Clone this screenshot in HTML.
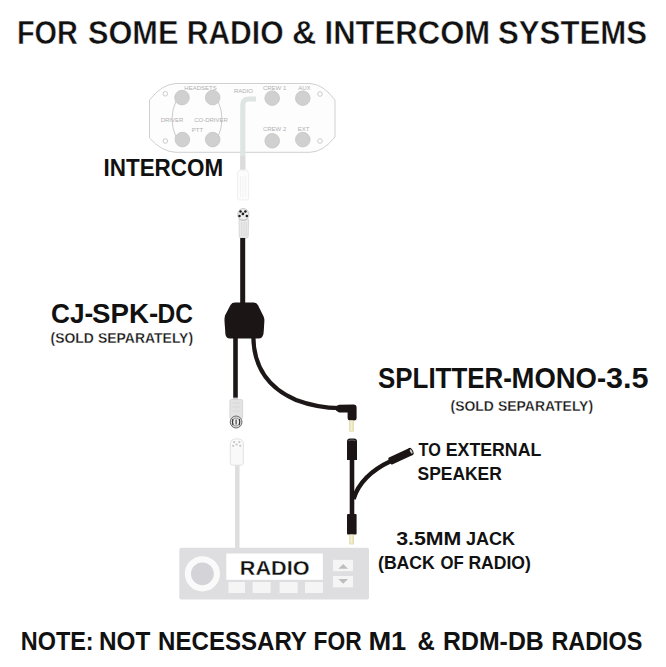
<!DOCTYPE html>
<html><head><meta charset="utf-8">
<style>
html,body{margin:0;padding:0;background:#fff;width:666px;height:667px;overflow:hidden}
svg{display:block}
text{font-family:"Liberation Sans",sans-serif;fill:#111}
.b{font-weight:bold}
.bt{font-weight:bold;stroke:#fff;stroke-width:0.45px}
.bs{font-weight:bold;stroke:#fff;stroke-width:0.3px}
.m{font-weight:normal;stroke:#111;stroke-width:0.45px}
.lbl{font-weight:normal;fill:#b0b0b0;font-size:6px;stroke:none}
</style></head><body>
<svg width="666" height="667" viewBox="0 0 666 667">
<rect width="666" height="667" fill="#fff"/>

<!-- ===== INTERCOM PANEL ===== -->
<path d="M176,83.5 L310,83.5 Q323,84 335,100 L335,137 Q323,152 310,152.3 L176,152.3 Q162,152 149.5,138 L149.5,100 Q162,84 176,83.5 Z" fill="#fdfdfd" stroke="#d0d0d0" stroke-width="1"/>
<g fill="#d0d0d0" stroke="#c4c4c4" stroke-width="0.8">
<circle cx="182" cy="97.6" r="7.3"/><circle cx="212.7" cy="97.6" r="7.3"/>
<circle cx="182.4" cy="139.6" r="7.3"/><circle cx="212.7" cy="139.6" r="7.3"/>
<circle cx="272.2" cy="98.2" r="7.3"/><circle cx="302.8" cy="98.2" r="7.3"/>
<circle cx="272.2" cy="140.8" r="7.3"/><circle cx="302.8" cy="139.6" r="7.3"/>
</g>
<g fill="none" stroke="#c6c6c6" stroke-width="0.9">
<circle cx="165.3" cy="93.8" r="2.3"/><circle cx="165.3" cy="141" r="2.3"/>
<circle cx="320" cy="94" r="2.3"/><circle cx="320" cy="141" r="2.3"/>
<path d="M176,101 Q168,119 176,137"/>
<path d="M218,101 Q226,119 218,137"/>
</g>
<g class="lbl">
<text class="lbl" x="200.5" y="89.5" text-anchor="middle">HEADSETS</text>
<text class="lbl" x="172" y="121.5" text-anchor="middle">DRIVER</text>
<text class="lbl" x="211" y="121.5" text-anchor="middle">CO-DRIVER</text>
<text class="lbl" x="197.5" y="132" text-anchor="middle">PTT</text>
<text class="lbl" x="243.5" y="92.5" text-anchor="middle">RADIO</text>
<text class="lbl" x="274.6" y="90" text-anchor="middle">CREW 1</text>
<text class="lbl" x="304.3" y="90" text-anchor="middle">AUX</text>
<text class="lbl" x="274.6" y="131" text-anchor="middle">CREW 2</text>
<text class="lbl" x="303.5" y="131" text-anchor="middle">EXT</text>
</g>
<!-- radio hook cable (light) -->
<path d="M242.8,171 L242.8,105 Q242.8,99 248.8,99 L256,99" fill="none" stroke="#dfe5e2" stroke-width="5.2"/>
<path d="M242.8,171 L242.8,156" fill="none" stroke="#dcdcdc" stroke-width="5"/>
<!-- faint female connector -->
<path d="M237.5,174 Q237.5,170 240.5,170 L245.5,170 Q248.6,170 248.6,174 L248.6,198 Q248.6,200 246.5,200 L239.5,200 Q237.5,200 237.5,198 Z" fill="#fcfcfc" stroke="#ededed" stroke-width="0.9"/>
<g stroke="#efefef" stroke-width="0.7"><path d="M240.5,176 L240.5,197"/><path d="M243,176 L243,197"/><path d="M245.5,176 L245.5,197"/></g>

<!-- male connector on CJ-SPK-DC -->
<path d="M239,219 L248.6,219 L248.2,236.5 Q248,238 246.5,238 L240.8,238 Q239.4,238 239.3,236.5 Z" fill="#e9e9ea" stroke="#d2d2d2" stroke-width="0.8"/>
<g stroke="#d6d6d6" stroke-width="0.7"><path d="M241.6,222 L241.6,236"/><path d="M244,222 L244,236"/><path d="M246.2,222 L246.2,236"/></g>
<ellipse cx="243.3" cy="214.5" rx="5.6" ry="6" fill="#ededed" stroke="#bdbdbd" stroke-width="0.8"/>
<g fill="#1c1c1c">
<circle cx="240.5" cy="211.6" r="1.25"/><circle cx="245.4" cy="211.6" r="1.25"/>
<circle cx="239.5" cy="216" r="1.25"/><circle cx="246.8" cy="216" r="1.25"/><circle cx="242.9" cy="213.9" r="1.35"/>
</g>
<path d="M239.5,219 Q243.3,221.5 247.2,219" fill="none" stroke="#bbb" stroke-width="0.7"/>

<!-- black cables -->
<g fill="none" stroke="#1d1717" stroke-linecap="butt">
<path d="M242.7,238 L242.7,305" stroke-width="5"/>
<path d="M235.5,336 L235.5,399" stroke-width="4.6"/>
<path d="M253.3,336 C253.5,366 268,388 296,400 C312,406 326,408 340,408.2" stroke-width="4.2"/>
</g>
<!-- splitter body -->
<path d="M235,302.6 L253.5,302.6 Q256.6,302.6 258,305.2 L263.6,316.5 Q264.4,318.5 264.4,321 L263.6,333 Q263,338.6 258.5,338.6 L230,338.6 Q226,338.6 225.4,334 L224.5,321 Q224.4,318 225,315.5 L230.5,305 Q232,302.6 235,302.6 Z" fill="#1b1515"/>

<!-- female connector lower-left -->
<rect x="232.8" y="397.6" width="5.2" height="2.6" fill="#cfcfcf"/>
<rect x="229.9" y="399.6" width="12.7" height="19" rx="1.2" fill="#e3e3e3" stroke="#d0d0d0" stroke-width="0.8"/>
<g stroke="#d2d2d2" stroke-width="0.6"><path d="M232.5,403 L240,403"/><path d="M232.5,407 L240,407"/><path d="M232.5,411 L240,411"/></g>
<ellipse cx="236.1" cy="422" rx="5.9" ry="6" fill="#d6d6d6" stroke="#6c6c6c" stroke-width="1"/>
<ellipse cx="236.1" cy="422" rx="3.6" ry="4" fill="#eeeeee" stroke="#8a8a8a" stroke-width="0.8"/>
<g fill="none" stroke="#333" stroke-width="1.1">
<path d="M232.8,419 Q232.2,422 232.9,425.2"/>
<path d="M239.4,419 Q240,422 239.3,425.2"/>
<path d="M236.1,419.5 L236.1,424.5"/>
</g>

<!-- faint radio cable + connector -->
<path d="M237.3,464 L237.3,549" stroke="#dedede" stroke-width="4.5" fill="none"/>
<path d="M230.3,444 Q230.3,438.8 236.8,438.8 Q243.4,438.8 243.4,444 L243.4,463 Q243.4,465.2 241,465.2 L232.7,465.2 Q230.3,465.2 230.3,463 Z" fill="#f9f9f9" stroke="#e0e0e0" stroke-width="0.9"/>
<g fill="#c6c6c6">
<circle cx="234.1" cy="442.1" r="1.1"/><circle cx="239.3" cy="442.1" r="1.1"/><circle cx="236.6" cy="444.5" r="1.1"/>
<circle cx="233.2" cy="445.8" r="1.1"/><circle cx="240.2" cy="445.8" r="1.1"/>
</g>

<!-- right angle 3.5 plug -->
<path d="M336,406.2 L339,404.8 L353.5,404.6 Q356.6,404.6 356.6,407.6 L356.6,418 Q356.6,420.5 354,420.5 L350,420.5 Q347.6,420.5 347.6,418 L347.6,412.6 L339,412.4 L336,410.4 Z" fill="#1b1515"/>
<rect x="349.1" y="420.3" width="4.8" height="11.5" rx="1" fill="#e4dcae"/>
<rect x="350.5" y="421" width="2" height="10" fill="#f3efd8"/>

<!-- splitter mono -->
<path d="M347,460 L347,441.5 Q347,438.4 350,438.4 L354,438.4 Q357,438.4 357,441.5 L357,460 Z" fill="#1b1515"/>
<path d="M348.6,440.6 Q352,439.2 355.4,440.6" fill="none" stroke="#777" stroke-width="0.8"/>
<path d="M352,459 L352,516" stroke="#1b1515" stroke-width="4.6" fill="none"/>
<path d="M353.5,499 Q361,475 391,461" stroke="#1b1515" stroke-width="4.5" fill="none"/>
<g transform="translate(389.5,461.5) rotate(-25)">
<rect x="0" y="-3.8" width="25" height="7.6" rx="1.2" fill="#1b1515"/>
<ellipse cx="23.6" cy="0" rx="2.2" ry="3.8" fill="#1b1515"/><ellipse cx="23.9" cy="0" rx="1.1" ry="2.4" fill="#c8c8c8"/>
</g>
<rect x="347" y="514" width="9.6" height="20.6" rx="1" fill="#1b1515"/>
<rect x="349.2" y="534.4" width="4.8" height="10" rx="1" fill="#e4dcae"/>
<rect x="350.5" y="535" width="2" height="8.5" fill="#f3efd8"/>

<!-- ===== RADIO ===== -->
<rect x="179.3" y="547.8" width="189.7" height="51.7" rx="2" fill="#dedee1"/>
<circle cx="202.4" cy="573.8" r="14.5" fill="#d4d4d8" stroke="#fafafa" stroke-width="6.2"/>
<rect x="226.3" y="553.5" width="96.5" height="26.3" fill="#fff"/>
<g fill="#f5f5f6">
<rect x="228.5" y="582" width="16.5" height="11"/>
<rect x="252.6" y="582" width="18" height="11"/>
<rect x="279.6" y="582" width="18" height="11"/>
<rect x="305" y="582" width="18" height="11"/>
<rect x="333" y="559.8" width="20" height="11.4"/>
<rect x="333" y="576" width="20" height="11.4"/>
</g>
<g fill="#bdbdbd">
<path d="M338.4,568.8 L348,568.8 L343.2,564 Z"/>
<path d="M338.4,579 L348,579 L343.2,583.8 Z"/>
</g>


<text class="bt" x="17.00" y="44" font-size="32.86" textLength="60.84" lengthAdjust="spacingAndGlyphs">FOR</text>
<text class="bt" x="88.00" y="44" font-size="32.86" textLength="90.40" lengthAdjust="spacingAndGlyphs">SOME</text>
<text class="bt" x="186.70" y="44" font-size="32.86" textLength="96.91" lengthAdjust="spacingAndGlyphs">RADIO</text>
<text class="bt" x="292.00" y="44" font-size="32.86" textLength="24.37" lengthAdjust="spacingAndGlyphs">&amp;</text>
<text class="bt" x="324.50" y="44" font-size="32.86" textLength="165.75" lengthAdjust="spacingAndGlyphs">INTERCOM</text>
<text class="bt" x="498.00" y="44" font-size="32.86" textLength="149.03" lengthAdjust="spacingAndGlyphs">SYSTEMS</text>
<text class="b" x="103.50" y="175.6" font-size="23.43" textLength="119.63" lengthAdjust="spacingAndGlyphs">INTERCOM</text>
<text class="b" x="51.00" y="322.8" font-size="27.86" textLength="42.25" lengthAdjust="spacingAndGlyphs">CJ-</text>
<text class="b" x="92.00" y="322.8" font-size="27.86" textLength="66.11" lengthAdjust="spacingAndGlyphs">SPK-</text>
<text class="b" x="157.50" y="322.8" font-size="27.86" textLength="35.40" lengthAdjust="spacingAndGlyphs">DC</text>
<text class="bs" x="50.50" y="342.8" font-size="14.29" textLength="43.29" lengthAdjust="spacingAndGlyphs">(SOLD</text>
<text class="bs" x="98.00" y="342.8" font-size="14.29" textLength="95.07" lengthAdjust="spacingAndGlyphs">SEPARATELY)</text>
<text class="b" x="378.00" y="388.2" font-size="29.14" textLength="133.85" lengthAdjust="spacingAndGlyphs">SPLITTER-</text>
<text class="b" x="511.50" y="388.2" font-size="29.14" textLength="94.65" lengthAdjust="spacingAndGlyphs">MONO-</text>
<text class="b" x="606.00" y="388.2" font-size="29.14" textLength="42.53" lengthAdjust="spacingAndGlyphs">3.5</text>
<text class="bs" x="450.50" y="410.8" font-size="14.29" textLength="43.29" lengthAdjust="spacingAndGlyphs">(SOLD</text>
<text class="bs" x="498.00" y="410.8" font-size="14.29" textLength="95.07" lengthAdjust="spacingAndGlyphs">SEPARATELY)</text>
<text class="b" x="418.60" y="455.9" font-size="18.71" textLength="22.22" lengthAdjust="spacingAndGlyphs">TO</text>
<text class="b" x="445.80" y="455.9" font-size="18.71" textLength="95.48" lengthAdjust="spacingAndGlyphs">EXTERNAL</text>
<text class="b" x="417.50" y="479.6" font-size="18.14" textLength="84.27" lengthAdjust="spacingAndGlyphs">SPEAKER</text>
<text class="b" x="396.20" y="544.9" font-size="18.57" textLength="65.16" lengthAdjust="spacingAndGlyphs">3.5MM</text>
<text class="b" x="465.90" y="544.9" font-size="18.57" textLength="49.13" lengthAdjust="spacingAndGlyphs">JACK</text>
<text class="b" x="378.00" y="569.0" font-size="18.00" textLength="56.85" lengthAdjust="spacingAndGlyphs">(BACK</text>
<text class="b" x="440.60" y="569.0" font-size="18.00" textLength="23.22" lengthAdjust="spacingAndGlyphs">OF</text>
<text class="b" x="468.40" y="569.0" font-size="18.00" textLength="62.41" lengthAdjust="spacingAndGlyphs">RADIO)</text>
<text class="bs" x="239.80" y="574.5" font-size="20.14" textLength="69.73" lengthAdjust="spacingAndGlyphs">RADIO</text>
<text class="b" x="20.70" y="649.6" font-size="25.14" textLength="73.01" lengthAdjust="spacingAndGlyphs">NOTE:</text>
<text class="b" x="99.00" y="649.6" font-size="25.14" textLength="51.33" lengthAdjust="spacingAndGlyphs">NOT</text>
<text class="b" x="158.10" y="649.6" font-size="25.14" textLength="148.81" lengthAdjust="spacingAndGlyphs">NECESSARY</text>
<text class="b" x="313.60" y="649.6" font-size="25.14" textLength="48.11" lengthAdjust="spacingAndGlyphs">FOR</text>
<text class="b" x="368.40" y="649.6" font-size="25.14" textLength="37.90" lengthAdjust="spacingAndGlyphs">M1</text>
<text class="b" x="417.60" y="649.6" font-size="25.14" textLength="17.33" lengthAdjust="spacingAndGlyphs">&amp;</text>
<text class="b" x="443.10" y="649.6" font-size="25.14" textLength="100.65" lengthAdjust="spacingAndGlyphs">RDM-DB</text>
<text class="b" x="551.40" y="649.6" font-size="25.14" textLength="91.04" lengthAdjust="spacingAndGlyphs">RADIOS</text>
</svg>
</body></html>
